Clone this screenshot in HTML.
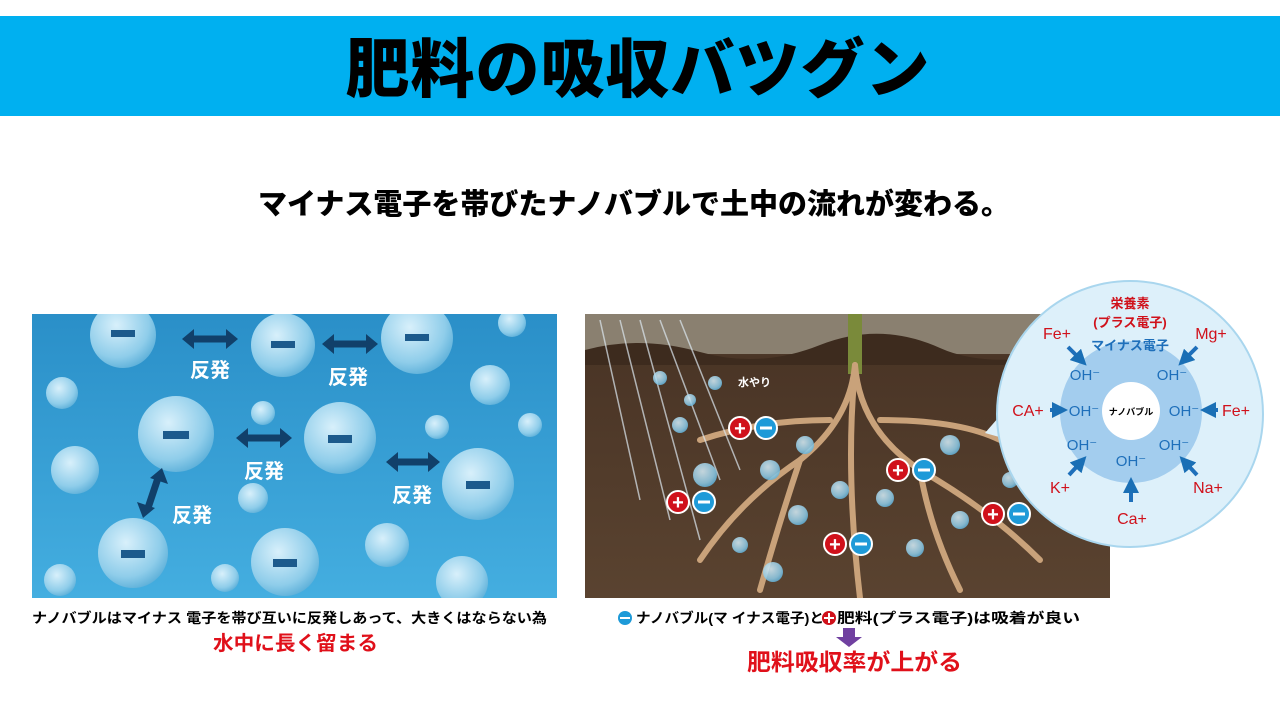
<!DOCTYPE html>
<html><head><meta charset="utf-8"><style>
body{margin:0;width:1280px;height:720px;background:#fff;position:relative;overflow:hidden;font-family:"Liberation Sans","Noto Sans CJK JP",sans-serif}
.hdr{position:absolute;left:0;top:16px;width:1280px;height:100px;background:#00b0f0}
.t{position:absolute;left:0;width:1280px;text-align:center;font-weight:900}
</style></head><body>
<div class="hdr"></div>
<div class="t" style="top:30px;font-size:64px;line-height:80px;color:#000;letter-spacing:1px;left:-2px">肥料の吸収バツグン</div>
<div class="t" style="top:187px;font-size:29px;line-height:36px;color:#000;left:-6px">マイナス電子を帯びたナノバブルで土中の流れが変わる。</div>
<svg style="position:absolute;left:0;top:0" width="1280" height="720">
<defs>
<linearGradient id="bg1" x1="0" y1="0" x2="0" y2="1"><stop offset="0" stop-color="#2a8fc8"/><stop offset="1" stop-color="#44aee0"/></linearGradient>
<radialGradient id="bb" cx="0.4" cy="0.35" r="0.7"><stop offset="0" stop-color="#d8f0fb"/><stop offset="0.7" stop-color="#8fcdea"/><stop offset="1" stop-color="#5aaed8"/></radialGradient>
<linearGradient id="soil" x1="0" y1="0" x2="0" y2="1"><stop offset="0" stop-color="#7a6a58"/><stop offset="0.15" stop-color="#4a3526"/><stop offset="1" stop-color="#5a4330"/></linearGradient>
<marker id="ar" markerWidth="4" markerHeight="4" refX="2" refY="2" orient="auto"><path d="M0,0L4,2L0,4z" fill="#1a6fb5"/></marker>
<clipPath id="c1"><rect x="32" y="314" width="525" height="284"/></clipPath>
<clipPath id="c2"><rect x="585" y="314" width="525" height="284"/></clipPath>
</defs>
<rect x="32" y="314" width="525" height="284" fill="url(#bg1)"/>
<g clip-path="url(#c1)">
<circle cx="123" cy="335" r="33" fill="url(#bb)"/><circle cx="283" cy="345" r="32" fill="url(#bb)"/><circle cx="417" cy="338" r="36" fill="url(#bb)"/>
<circle cx="176" cy="434" r="38" fill="url(#bb)"/><circle cx="340" cy="438" r="36" fill="url(#bb)"/><circle cx="478" cy="484" r="36" fill="url(#bb)"/>
<circle cx="133" cy="553" r="35" fill="url(#bb)"/><circle cx="285" cy="562" r="34" fill="url(#bb)"/><circle cx="462" cy="582" r="26" fill="url(#bb)"/>
<circle cx="62" cy="393" r="16" fill="url(#bb)"/><circle cx="75" cy="470" r="24" fill="url(#bb)"/><circle cx="490" cy="385" r="20" fill="url(#bb)"/><circle cx="512" cy="323" r="14" fill="url(#bb)"/>
<circle cx="263" cy="413" r="12" fill="url(#bb)"/><circle cx="253" cy="498" r="15" fill="url(#bb)"/><circle cx="387" cy="545" r="22" fill="url(#bb)"/><circle cx="437" cy="427" r="12" fill="url(#bb)"/><circle cx="530" cy="425" r="12" fill="url(#bb)"/><circle cx="225" cy="578" r="14" fill="url(#bb)"/><circle cx="60" cy="580" r="16" fill="url(#bb)"/>
<g fill="#1c5a8c"><rect x="111" y="330" width="24" height="7"/><rect x="271" y="341" width="24" height="7"/><rect x="405" y="334" width="24" height="7"/><rect x="163" y="431" width="26" height="8"/><rect x="328" y="435" width="24" height="8"/><rect x="466" y="481" width="24" height="8"/><rect x="121" y="550" width="24" height="8"/><rect x="273" y="559" width="24" height="8"/></g>
<g stroke="#11406a" stroke-width="7" fill="#11406a">
<line x1="192" y1="339" x2="228" y2="339"/><path d="M182,339l12,-10v20z M238,339l-12,-10v20z" stroke="none"/>
<line x1="332" y1="344" x2="368" y2="344"/><path d="M322,344l12,-10v20z M378,344l-12,-10v20z" stroke="none"/>
<line x1="246" y1="438" x2="282" y2="438"/><path d="M236,438l12,-10v20z M292,438l-12,-10v20z" stroke="none"/>
<line x1="396" y1="462" x2="430" y2="462"/><path d="M386,462l12,-10v20z M440,462l-12,-10v20z" stroke="none"/>
<line x1="158" y1="478" x2="148" y2="508"/><path d="M162,468l6,16-18,-6z M143,518l-6,-16 18,6z" stroke="none"/>
</g>
<g fill="#fff" font-size="20" font-weight="bold"><text x="190" y="377">反発</text><text x="328" y="384">反発</text><text x="244" y="478">反発</text><text x="392" y="502">反発</text><text x="172" y="522">反発</text></g>
</g>
<rect x="585" y="314" width="525" height="284" fill="url(#soil)"/>
<g clip-path="url(#c2)">
<rect x="585" y="314" width="525" height="40" fill="#8a8070"/>
<path d="M585,350 Q640,335 700,352 T820,345 T940,348 T1110,340 V365 H585z" fill="#3d2b1e"/>
<rect x="848" y="314" width="14" height="60" fill="#7a8a3a"/>
<g stroke="#c9a27a" stroke-width="6" fill="none" stroke-linecap="round">
<path d="M855,365 Q850,420 800,460 Q740,500 700,560"/><path d="M855,365 Q860,430 920,470 Q990,510 1040,560"/>
<path d="M855,370 Q845,470 860,598"/><path d="M830,420 Q760,420 700,440"/><path d="M880,420 Q960,420 1000,440"/>
<path d="M800,460 Q780,520 760,590"/><path d="M920,470 Q930,530 960,590"/></g>
<g stroke="#dde8f0" stroke-width="1.5" opacity="0.7"><line x1="600" y1="320" x2="640" y2="500"/><line x1="620" y1="320" x2="670" y2="520"/><line x1="640" y1="320" x2="700" y2="540"/><line x1="660" y1="320" x2="720" y2="480"/><line x1="680" y1="320" x2="740" y2="470"/></g>
<g fill="url(#bb)" opacity="0.85"><circle cx="660" cy="378" r="7"/><circle cx="690" cy="400" r="6"/><circle cx="715" cy="383" r="7"/><circle cx="680" cy="425" r="8"/><circle cx="705" cy="475" r="12"/><circle cx="770" cy="470" r="10"/><circle cx="805" cy="445" r="9"/><circle cx="798" cy="515" r="10"/><circle cx="840" cy="490" r="9"/><circle cx="885" cy="498" r="9"/><circle cx="950" cy="445" r="10"/><circle cx="960" cy="520" r="9"/><circle cx="915" cy="548" r="9"/><circle cx="773" cy="572" r="10"/><circle cx="740" cy="545" r="8"/><circle cx="1010" cy="480" r="8"/></g>
</g>
<text x="738" y="386" fill="#fff" font-size="11" font-weight="bold">水やり</text>
<g font-weight="bold" font-size="20" text-anchor="middle">
<g transform="translate(740,428)"><circle r="11" fill="#d0111b" stroke="#fff" stroke-width="2"/><text y="7" fill="#fff">+</text><circle cx="26" r="11" fill="#1e9ad8" stroke="#fff" stroke-width="2"/><rect x="20" y="-1.5" width="12" height="3" fill="#fff"/></g>
<g transform="translate(678,502)"><circle r="11" fill="#d0111b" stroke="#fff" stroke-width="2"/><text y="7" fill="#fff">+</text><circle cx="26" r="11" fill="#1e9ad8" stroke="#fff" stroke-width="2"/><rect x="20" y="-1.5" width="12" height="3" fill="#fff"/></g>
<g transform="translate(898,470)"><circle r="11" fill="#d0111b" stroke="#fff" stroke-width="2"/><text y="7" fill="#fff">+</text><circle cx="26" r="11" fill="#1e9ad8" stroke="#fff" stroke-width="2"/><rect x="20" y="-1.5" width="12" height="3" fill="#fff"/></g>
<g transform="translate(835,544)"><circle r="11" fill="#d0111b" stroke="#fff" stroke-width="2"/><text y="7" fill="#fff">+</text><circle cx="26" r="11" fill="#1e9ad8" stroke="#fff" stroke-width="2"/><rect x="20" y="-1.5" width="12" height="3" fill="#fff"/></g>
<g transform="translate(993,514)"><circle r="11" fill="#d0111b" stroke="#fff" stroke-width="2"/><text y="7" fill="#fff">+</text><circle cx="26" r="11" fill="#1e9ad8" stroke="#fff" stroke-width="2"/><rect x="20" y="-1.5" width="12" height="3" fill="#fff"/></g>
</g>
<path d="M1005,410 L985,433 L1010,440z" fill="#ddf0fa"/>
<circle cx="1130" cy="414" r="133" fill="#ddf0fa" stroke="#a9d6ee" stroke-width="2"/>
<circle cx="1131" cy="412" r="71" fill="#a3cdee"/>
<circle cx="1131" cy="411" r="29" fill="#fff"/>
<text x="1131" y="415" font-size="9" font-weight="bold" text-anchor="middle">ナノバブル</text>
<g fill="#d0111b" font-weight="bold" text-anchor="middle"><text x="1130" y="308" font-size="13">栄養素</text><text x="1130" y="327" font-size="13">(プラス電子)</text></g>
<text x="1130" y="350" fill="#1e6fba" font-size="13" font-weight="bold" text-anchor="middle">マイナス電子</text>
<g fill="#d0111b" font-size="16" text-anchor="middle"><text x="1057" y="339">Fe+</text><text x="1211" y="339">Mg+</text><text x="1028" y="416">CA+</text><text x="1236" y="416">Fe+</text><text x="1060" y="493">K+</text><text x="1208" y="493">Na+</text><text x="1132" y="524">Ca+</text></g>
<g fill="#1e6fba" font-size="15" text-anchor="middle"><text x="1085" y="380">OH⁻</text><text x="1172" y="380">OH⁻</text><text x="1084" y="416">OH⁻</text><text x="1184" y="416">OH⁻</text><text x="1082" y="450">OH⁻</text><text x="1174" y="450">OH⁻</text><text x="1131" y="466">OH⁻</text></g>
<g stroke="#1e6fba" stroke-width="4" marker-end="url(#ar)"><line x1="1068" y1="347" x2="1081" y2="360"/><line x1="1197" y1="347" x2="1184" y2="360"/><line x1="1050" y1="410" x2="1060" y2="410"/><line x1="1218" y1="410" x2="1208" y2="410"/><line x1="1069" y1="475" x2="1081" y2="462"/><line x1="1197" y1="475" x2="1185" y2="462"/><line x1="1131" y1="502" x2="1131" y2="485"/></g>
<g font-size="14" font-weight="bold"><text x="32" y="623" textLength="515" lengthAdjust="spacingAndGlyphs">ナノバブルはマイナス  電子を帯び互いに反発しあって、大きくはならない為</text><text x="636" y="623" textLength="188" lengthAdjust="spacingAndGlyphs">ナノバブル(マ イナス電子)と</text><text x="837" y="623" textLength="243" lengthAdjust="spacingAndGlyphs">肥料(プラス電子)は吸着が良い</text></g>
<circle cx="625" cy="618" r="7" fill="#1e9ad8"/><rect x="620" y="617" width="10" height="2" fill="#fff"/>
<circle cx="829" cy="618" r="7" fill="#d0111b"/><rect x="824" y="617" width="10" height="2" fill="#fff"/><rect x="828" y="613" width="2" height="10" fill="#fff"/>
<g fill="#e0101a" font-weight="bold"><text x="213" y="650" font-size="20" textLength="165" lengthAdjust="spacingAndGlyphs">水中に長く留まる</text><text x="747" y="670" font-size="23" textLength="215" lengthAdjust="spacingAndGlyphs">肥料吸収率が上がる</text></g>
<path d="M843,628h12v9h7l-13,10-13,-10h7z" fill="#7040a0"/>
</svg>
</body></html>
